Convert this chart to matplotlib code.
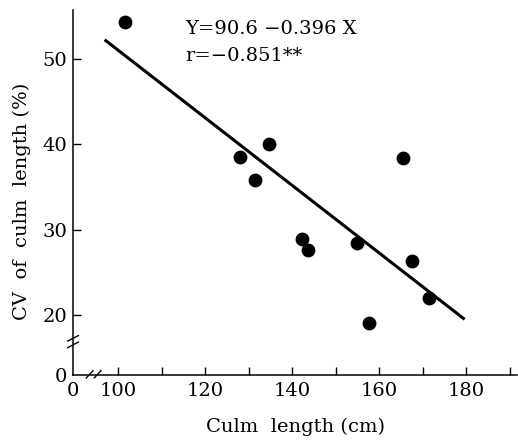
import numpy as np
import matplotlib
matplotlib.use("Agg")
import matplotlib.pyplot as plt

# culm length (cm) vs CV of culm length (%)
culm_length = [101.6, 128.0, 131.5, 134.7, 142.3, 143.7, 154.9, 157.7, 165.5, 167.6, 171.5]
cv_length = [54.3, 38.5, 35.8, 40.0, 28.9, 27.6, 28.4, 19.1, 38.4, 26.3, 22.0]

# regression Y = a + b X
reg_a = 90.6
reg_b = -0.396
reg_x = [97.2, 179.3]
reg_r = -0.851

x_ticks = [100, 120, 140, 160, 180]
x_minor = [110, 130, 150, 170, 190]
y_ticks = [20, 30, 40, 50]

# broken axes: the axis origin stands for 0
x_lo, x_hi = 89.66, 191.6
y_lo, y_hi = 12.97, 55.7

plt.rcParams['font.family'] = ['DejaVu Serif']

W, H = 518, 440
fig = plt.figure(figsize=(W / 100, H / 100), dpi=100)
ax = fig.add_axes([73 / W, 1 - 375 / H, 444 / W, 365 / H])

ax.scatter(culm_length, cv_length, s=80, color='black', zorder=3)
xs = np.array(reg_x)
ax.plot(xs, reg_a + reg_b * xs, color='black', lw=2.2)

ax.set_xlim(x_lo, x_hi)
ax.set_ylim(y_lo, y_hi)
for s in ['top', 'right']:
    ax.spines[s].set_visible(False)
for s in ['left', 'bottom']:
    ax.spines[s].set_linewidth(1.1)

ax.set_xticks([x_lo] + x_ticks)
ax.set_xticklabels(['0'] + [str(t) for t in x_ticks])
ax.set_xticks(x_minor, minor=True)
ax.set_yticks([y_lo] + y_ticks)
ax.set_yticklabels(['0'] + [str(t) for t in y_ticks])
ax.tick_params(which='both', direction='in', length=6, width=1.0, labelsize=14)
ax.tick_params(axis='x', pad=5)
ax.tick_params(axis='y', pad=4)
ax.xaxis.get_major_ticks()[0].tick1line.set_visible(False)
ax.yaxis.get_major_ticks()[0].tick1line.set_visible(False)

# break marks
kw = dict(color='black', lw=1.0, clip_on=False, transform=ax.transAxes)
for dx in [0.0, 0.018]:
    ax.plot([0.03 + dx, 0.045 + dx], [-0.008, 0.012], **kw)
for dy in [0.0, 0.018]:
    ax.plot([-0.012, 0.012], [0.075 + dy, 0.09 + dy], **kw)

fig.text(185 / W, 1 - 29 / H, 'Y=90.6 \u22120.396 X', fontsize=14,
         va='center', ha='left')
fig.text(185 / W, 1 - 56 / H, 'r=\u22120.851**', fontsize=14,
         va='center', ha='left')

ax.set_xlabel('Culm  length (cm)', fontsize=14, labelpad=13)
ax.set_ylabel('CV  of  culm  length (%)', fontsize=14)
ax.yaxis.set_label_coords(-0.095, 0.477)

fig.savefig('out.png', dpi=100)
